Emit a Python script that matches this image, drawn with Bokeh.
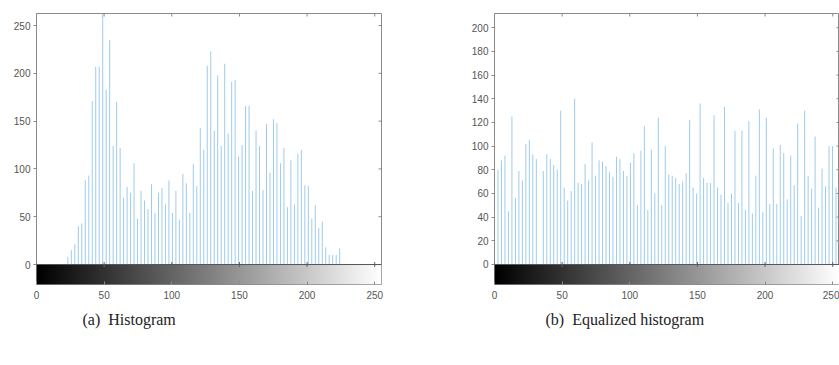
import numpy as np
from bokeh.plotting import figure
from bokeh.layouts import row
from bokeh.models import Range1d, FixedTicker, Span, Title
from bokeh.palettes import Greys256
from bokeh.embed import file_html
from bokeh.resources import INLINE

# ---- data -------------------------------------------------------------
n_bins = 100
gray_max = 255
bin_centers = np.linspace(0, gray_max, n_bins)

hist_counts = [
    0, 0, 0, 0, 0, 0, 0, 0, 0, 8,
    15, 21, 40, 43, 88, 93, 171, 207, 207, 262,
    183, 235, 124, 170, 122, 70, 81, 75, 106, 48,
    77, 67, 58, 84, 54, 75, 80, 63, 88, 54,
    77, 47, 95, 85, 54, 105, 82, 143, 120, 208,
    223, 140, 198, 124, 210, 137, 191, 193, 113, 125,
    166, 166, 77, 140, 124, 78, 147, 96, 152, 148,
    106, 122, 60, 109, 63, 116, 120, 83, 82, 48,
    62, 38, 45, 18, 10, 10, 10, 17, 0, 0,
    0, 0, 0, 0, 0, 0, 0, 0, 0, 0,
]

eq_counts = [
    0, 80, 88, 92, 45, 125, 56, 79, 71, 102,
    105, 93, 89, 0, 79, 93, 89, 84, 80, 130,
    65, 54, 62, 140, 69, 68, 85, 71, 103, 75,
    88, 87, 83, 78, 74, 91, 89, 79, 75, 86,
    94, 50, 96, 117, 46, 97, 60, 124, 50, 100,
    76, 75, 73, 68, 70, 77, 122, 65, 60, 136,
    73, 69, 69, 126, 65, 59, 133, 52, 60, 113,
    52, 113, 46, 121, 43, 75, 131, 44, 124, 51,
    98, 51, 101, 94, 55, 92, 67, 119, 41, 130,
    75, 64, 108, 48, 81, 66, 100, 100, 65, 0,
]

x_ticks = [0, 50, 100, 150, 200, 250]
hist_y_ticks = [0, 50, 100, 150, 200, 250]
eq_y_ticks = [0, 20, 40, 60, 80, 100, 120, 140, 160, 180, 200]
captions = ["(a)\u00a0 Histogram", "(b)\u00a0 Equalized histogram"]

gray_ramp = np.arange(256).reshape(1, 256)

STEM = "#9ecbec"
AXIS = "#8a8a8a"
LABEL = "#555555"
FIG_H = 360


def panel(counts, y_lo, y_hi, y_ticks, width, b_left, b_right, caption, cap_offset):
    p = figure(width=width, height=FIG_H, output_backend="svg", toolbar_location=None,
               x_range=Range1d(0, gray_max), y_range=Range1d(y_lo, y_hi),
               min_border_left=b_left, min_border_right=b_right,
               min_border_top=13, min_border_bottom=FIG_H - 13 - 271)
    p.grid.visible = False
    p.outline_line_color = AXIS
    p.background_fill_color = "white"
    p.border_fill_color = "white"

    # colour-bar strip below the histogram
    p.image(image=[gray_ramp], x=0, y=y_lo, dw=gray_max, dh=-y_lo, palette=Greys256)

    # stems
    p.segment(x0=bin_centers, y0=0, x1=bin_centers, y1=counts,
              line_color=STEM, line_width=1)

    p.add_layout(Span(location=0, dimension="width", line_color="#555555", line_width=1))

    # inward ticks on the top and right edges and on the zero line
    p.scatter(x=x_ticks, y=[y_hi] * len(x_ticks), marker="dash", angle=np.pi / 2,
              size=6, line_color=AXIS)
    p.scatter(x=[gray_max] * len(y_ticks), y=y_ticks, marker="dash",
              size=6, line_color=AXIS)
    p.scatter(x=x_ticks, y=[0] * len(x_ticks), marker="cross",
              size=5, line_color="#666666")

    for ax in p.xaxis:
        ax.ticker = FixedTicker(ticks=x_ticks)
        ax.major_tick_in = 3
        ax.major_tick_out = 0
        ax.minor_tick_line_color = None
        ax.axis_line_color = None
        ax.major_tick_line_color = AXIS
        ax.major_label_text_font = "Liberation Sans"
        ax.major_label_text_font_size = "10px"
        ax.major_label_text_color = LABEL
        ax.major_label_standoff = 6
    for ax in p.yaxis:
        ax.ticker = FixedTicker(ticks=y_ticks)
        ax.major_tick_in = 0
        ax.major_tick_out = 3
        ax.minor_tick_line_color = None
        ax.axis_line_color = None
        ax.major_tick_line_color = AXIS
        ax.major_label_text_font = "Liberation Sans"
        ax.major_label_text_font_size = "10px"
        ax.major_label_text_color = LABEL
        ax.major_label_standoff = 3

    p.add_layout(Title(text=caption, align="left", offset=cap_offset,
                       text_font="Liberation Serif", text_font_size="16px",
                       text_font_style="normal", text_color="#222222",
                       standoff=15), "below")
    return p


p1 = panel(hist_counts, -20.9, 262.6, hist_y_ticks, 421, 36, 40, captions[0], 46)
p2 = panel(eq_counts, -16.9, 212.0, eq_y_ticks, 418, 73, 0, captions[1], 51)

layout = row(p1, p2, spacing=0)
open("out.html", "w").write(file_html(layout, INLINE))
